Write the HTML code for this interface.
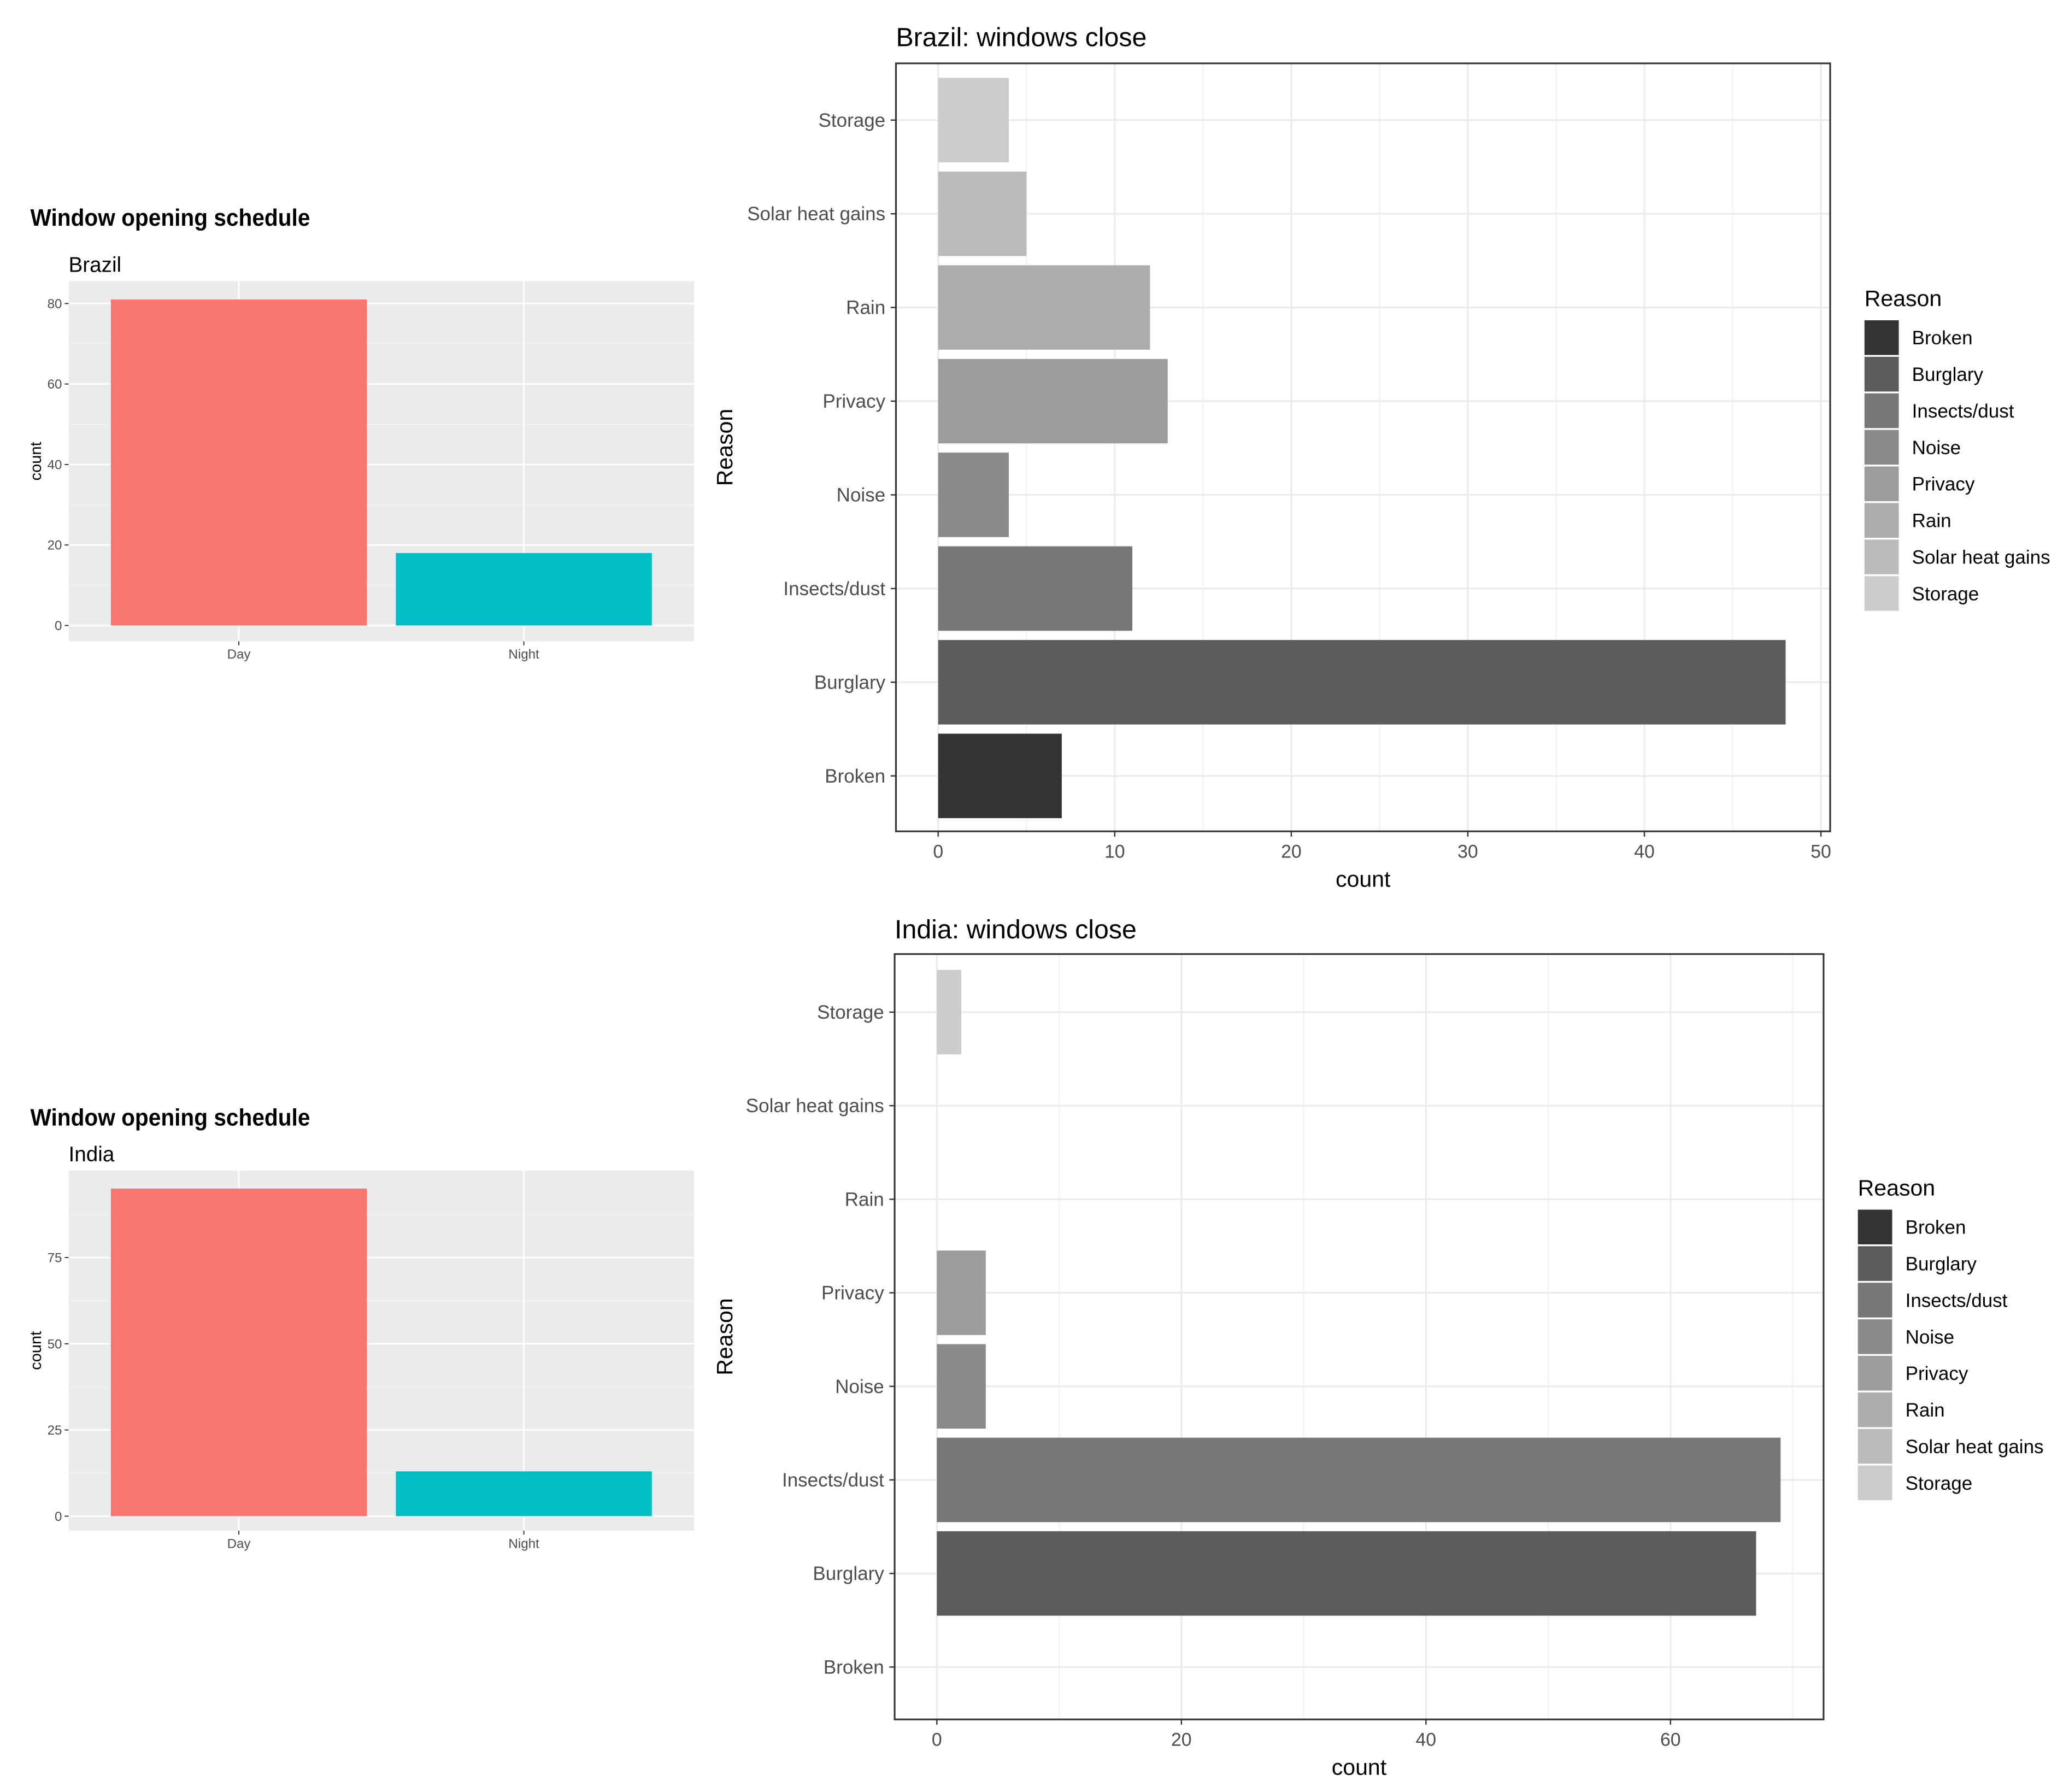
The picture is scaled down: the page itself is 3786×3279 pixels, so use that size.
<!DOCTYPE html>
<html><head><meta charset="utf-8">
<style>
html,body{margin:0;padding:0;background:#fff;}
svg{display:block;font-family:"Liberation Sans",Arial,sans-serif;}
</style></head>
<body>
<svg id="root" width="3786" height="3279" viewBox="0 0 1568 1358" xmlns="http://www.w3.org/2000/svg">
<rect width="1568" height="1358" fill="#fff"/>
</svg>
<script>
// ---- data ----
const schedCats = ["Day","Night"];
const brazilSched = [81,18];
const indiaSched = [95,13];
const brazilSchedTicks = [0,20,40,60,80];
const indiaSchedTicks = [0,25,50,75];
const reasons = ["Broken","Burglary","Insects/dust","Noise","Privacy","Rain","Solar heat gains","Storage"];
const brazilClose = [7,48,11,4,13,12,5,4];
const indiaClose = [0,67,69,4,4,0,0,2];
const brazilCloseTicks = [0,10,20,30,40,50];
const indiaCloseTicks = [0,20,40,60];
const greys = ["#333333","#5C5C5C","#767676","#8A8A8A","#9C9C9C","#ACACAC","#BBBBBB","#CCCCCC"];
const schedColors = ["#F8766D","#00BFC4"];

const NS="http://www.w3.org/2000/svg";
const root=document.getElementById('root');
function mk(tag,attrs,parent,text){const e=document.createElementNS(NS,tag);for(const k in attrs)e.setAttribute(k,attrs[k]);if(text!==undefined)e.textContent=text;(parent||root).appendChild(e);return e;}

function schedChart(o){
  const g=mk('g',{});
  
  
  const t=mk('text',{x:23,y:o.titleY,'font-size':18,'font-weight':'bold',fill:'#000',textLength:212,lengthAdjust:'spacingAndGlyphs'},g,'Window opening schedule');
  
  
  const s=mk('text',{x:52,y:o.subY,'font-size':16,fill:'#000'},g,o.sub);
  
  
  const px0=52,px1=526,py0=o.py0,py1=o.py1;
  const bg=mk('rect',{x:px0,y:py0,width:px1-px0,height:py1-py0,fill:'#EBEBEB'},g);
  
  
  const yS=v=>o.y0-(v)*o.pxPer;
  for(let i=0;i<o.ticks.length;i++){
    const mv=o.ticks[i]+(o.ticks[1]-o.ticks[0])/2;
    if(yS(mv)>py0) mk('line',{x1:px0,x2:px1,y1:yS(mv),y2:yS(mv),stroke:'#F5F5F5','stroke-width':0.6},g);
  }
  o.ticks.forEach(v=>{
    const gl=mk('line',{x1:px0,x2:px1,y1:yS(v),y2:yS(v),stroke:'#fff','stroke-width':1.2},g);
    
    
    mk('line',{x1:px0-3,x2:px0,y1:yS(v),y2:yS(v),stroke:'#333','stroke-width':0.8},g);
    const tl=mk('text',{x:px0-5,y:yS(v)+3.5,'font-size':10,'text-anchor':'end',fill:'#4D4D4D'},g,String(v));
    
    
  });
  const centers=[181,397], bw=194;
  schedCats.forEach((c,i)=>{
    mk('line',{x1:centers[i],x2:centers[i],y1:py0,y2:py1,stroke:'#fff','stroke-width':1.2},g);
    const b=mk('rect',{x:centers[i]-bw/2,y:yS(o.vals[i]),width:bw,height:yS(0)-yS(o.vals[i]),fill:schedColors[i]},g);
    
    
    mk('line',{x1:centers[i],x2:centers[i],y1:py1,y2:py1+3,stroke:'#333','stroke-width':0.8},g);
    const xl=mk('text',{x:centers[i],y:py1+13,'font-size':10,'text-anchor':'middle',fill:'#4D4D4D'},g,c);
    
    
  });
  const yt=mk('text',{x:0,y:0,'font-size':12,'text-anchor':'middle',fill:'#000',transform:`translate(31,${(py0+py1)/2}) rotate(-90)`},g,'count');
  
  
}

function closeChart(o){
  const g=mk('g',{});
  
  
  const t=mk('text',{x:o.px0,y:o.titleY,'font-size':20,fill:'#000'},g,o.title);
  
  
  const xS=v=>o.x0+v*o.pxPer;
  const yC=i=>o.yTop+(reasons.length-1-i)*o.step;
  const step=o.ticks[1]-o.ticks[0];
  for(let v=step/2; xS(v)<o.px1; v+=step){
    mk('line',{x1:xS(v),x2:xS(v),y1:o.py0,y2:o.py1,stroke:'#F2F2F2','stroke-width':1},g);
  }
  o.ticks.forEach(v=>{
    const gl=mk('line',{x1:xS(v),x2:xS(v),y1:o.py0,y2:o.py1,stroke:'#EBEBEB','stroke-width':1.3},g);
    
    
    mk('line',{x1:xS(v),x2:xS(v),y1:o.py1,y2:o.py1+4,stroke:'#333','stroke-width':1},g);
    const tl=mk('text',{x:xS(v),y:o.py1+20,'font-size':14,'text-anchor':'middle',fill:'#4D4D4D'},g,String(v));
    
    
  });
  reasons.forEach((r,i)=>{
    mk('line',{x1:o.px0,x2:o.px1,y1:yC(i),y2:yC(i),stroke:'#EBEBEB','stroke-width':1.3},g);
    mk('line',{x1:o.px0-4,x2:o.px0,y1:yC(i),y2:yC(i),stroke:'#333','stroke-width':1},g);
    const tl=mk('text',{x:o.px0-8,y:yC(i)+5,'font-size':14.5,'text-anchor':'end',fill:'#4D4D4D'},g,r);
    
    
    if(o.vals[i]>0){
      const b=mk('rect',{x:xS(0),y:yC(i)-o.bh/2,width:xS(o.vals[i])-xS(0),height:o.bh,fill:greys[i]},g);
      
      
    }
  });
  const fr=mk('rect',{x:o.px0,y:o.py0,width:o.px1-o.px0,height:o.py1-o.py0,fill:'none',stroke:'#333','stroke-width':1.3},g);
  
  
  const xt=mk('text',{x:(o.px0+o.px1)/2,y:o.py1+42,'font-size':17,'text-anchor':'middle',fill:'#000'},g,'count');
  
  
  const yt=mk('text',{x:0,y:0,'font-size':17,'text-anchor':'middle',fill:'#000',transform:`translate(555,${(o.py0+o.py1)/2}) rotate(-90)`},g,'Reason');
  
  
  const lg=mk('g',{},g);
  
  
  const lt=mk('text',{x:o.lx,y:o.ly,'font-size':17,fill:'#000'},lg,'Reason');
  
  
  reasons.forEach((r,i)=>{
    const y=o.ly+10+i*27.7;
    const k=mk('rect',{x:o.lx,y:y+0.7,width:26,height:26.3,fill:greys[i]},lg);
    
    
    const l=mk('text',{x:o.lx+36,y:y+19,'font-size':14.5,fill:'#000'},lg,r);
    
    
  });
}

schedChart({name:'brazil-schedule-chart',titleY:171,subY:206,sub:'Brazil',py0:213,py1:486,y0:474,pxPer:244/80,vals:brazilSched,ticks:brazilSchedTicks});
schedChart({name:'india-schedule-chart',titleY:853,subY:880,sub:'India',py0:887,py1:1160,y0:1149,pxPer:196/75,vals:indiaSched,ticks:indiaSchedTicks});
closeChart({name:'brazil-close-chart',title:'Brazil: windows close',titleY:35,px0:679,px1:1387,py0:48,py1:630,x0:711,pxPer:669/50,yTop:91,step:71,bh:64,vals:brazilClose,ticks:brazilCloseTicks,lx:1413,ly:232});
closeChart({name:'india-close-chart',title:'India: windows close',titleY:711,px0:678,px1:1382,py0:723,py1:1303,x0:710,pxPer:556/60,yTop:767,step:70.9,bh:64,vals:indiaClose,ticks:indiaCloseTicks,lx:1408,ly:906});
</script>
</body></html>
